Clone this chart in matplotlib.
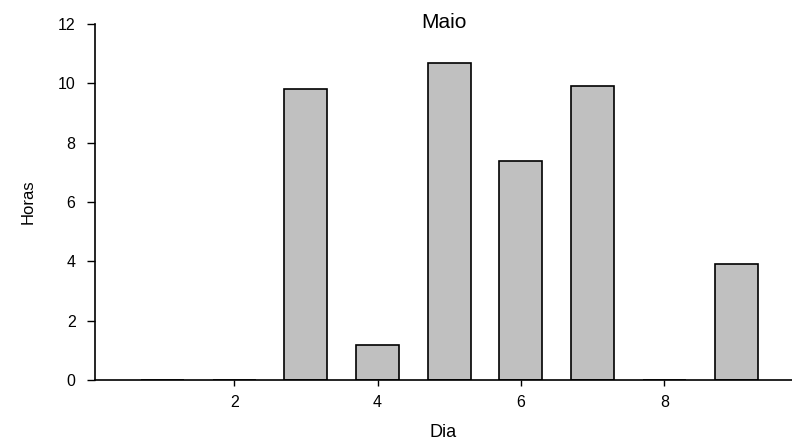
import matplotlib.pyplot as plt

plt.rcParams['font.family'] = ['Liberation Sans', 'DejaVu Sans']

# hours per day, May
dias = [1, 2, 3, 4, 5, 6, 7, 8, 9]
horas = [0, 0, 9.8, 1.2, 10.7, 7.4, 9.9, 0, 3.9]

fig = plt.figure(figsize=(7.92, 4.42), dpi=100)
ax = fig.add_axes([0.12, 0.14, 0.88, 0.8057])

ax.bar(dias, horas, width=0.6, color='#c0c0c0', edgecolor='black', linewidth=1.2)

ax.set_xlim(0.06, 9.78)
ax.set_ylim(0, 12)
ax.set_xticks([2, 4, 6, 8])
ax.set_yticks([0, 2, 4, 6, 8, 10, 12])

for s in ['top', 'right']:
    ax.spines[s].set_visible(False)
ax.spines['left'].set_linewidth(1.2)
ax.spines['bottom'].set_linewidth(1.2)
ax.tick_params(axis='y', length=6, width=1, pad=8, labelsize=11.5)
ax.tick_params(axis='x', length=4, width=1, pad=7, labelsize=11.5)

# title sits right at the top of the plot area
ax.text(0.5, 0.989, 'Maio', fontsize=15, ha='center', va='baseline',
        transform=ax.transAxes)
ax.set_xlabel('Dia', fontsize=13, labelpad=10)
ax.set_ylabel('Horas', fontsize=12, labelpad=16)

fig.savefig('out.png', dpi=100)
